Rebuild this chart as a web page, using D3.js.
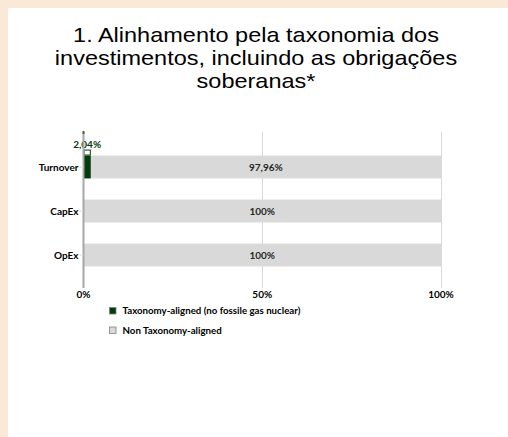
<!DOCTYPE html>
<html><head><meta charset="utf-8">
<script src="https://cdn.jsdelivr.net/npm/d3@7"></script>
<style>
html,body{margin:0;padding:0;background:#fbe9d7;}
svg{display:block;}
</style></head>
<body>
<script>
const categories = ["Turnover", "CapEx", "OpEx"];
const aligned = [2.04, 0, 0];
const nonAligned = [97.96, 100, 100];
const alignedLabels = ["2,04%", "", ""];
const nonAlignedLabels = ["97,96%", "100%", "100%"];
const tickValues = [0, 50, 100];
const tickLabels = ["0%", "50%", "100%"];
const seriesNames = ["Taxonomy-aligned (no fossile gas nuclear)", "Non Taxonomy-aligned"];
const seriesColors = ["#033b0c", "#d9d9d9"];
const titleLines = ["1. Alinhamento pela taxonomia dos", "investimentos, incluindo as obrigações", "soberanas*"];

const W = 508, H = 437;
const svg = d3.select("body").append("svg").attr("width", W).attr("height", H);
svg.append("rect").attr("width", W).attr("height", H).attr("fill", "#fbe9d7");
svg.append("rect").attr("x", 8).attr("y", 8).attr("width", W - 8).attr("height", H - 8).attr("fill", "#ffffff");

const sx = 1.13, cx = 256;
const title = svg.append("text").attr("text-anchor", "middle")
  .attr("transform", `translate(${cx},0) scale(${sx},1)`)
  .attr("font-family", "'Liberation Sans', Arial, sans-serif").attr("font-size", 20.8).attr("fill", "#000");
titleLines.forEach((l, i) => title.append("tspan").attr("x", 0).attr("y", 41.7 + i * 23.3).text(l));

const x = d3.scaleLinear().domain([0, 100]).range([83.5, 441]);
const y = d3.scaleBand().domain(categories).range([134, 288]).paddingInner(0.48).paddingOuter(0.49);

const font = "Lato, 'Open Sans', sans-serif";
const fs = 10;

// gridlines
svg.append("g").selectAll("line").data(tickValues.slice(1)).join("line")
  .attr("x1", d => Math.round(x(d)) + 0.5).attr("x2", d => Math.round(x(d)) + 0.5)
  .attr("y1", 132).attr("y2", 288).attr("stroke", "#d9d9d9").attr("stroke-width", 1);

// bars
const rows = categories.map((c, i) => ({c, a: aligned[i], n: nonAligned[i], al: alignedLabels[i], nl: nonAlignedLabels[i]}));
const g = svg.append("g");
g.selectAll("rect.n").data(rows).join("rect").attr("class", "n")
  .attr("x", d => x(d.a)).attr("width", d => x(d.a + d.n) - x(d.a))
  .attr("y", d => y(d.c)).attr("height", y.bandwidth()).attr("fill", seriesColors[1]);
g.selectAll("rect.a").data(rows.filter(d => d.a > 0)).join("rect").attr("class", "a")
  .attr("x", x(0)).attr("width", d => x(d.a) - x(0))
  .attr("y", d => y(d.c)).attr("height", y.bandwidth()).attr("fill", seriesColors[0]);

// axis line
svg.append("line").attr("x1", x(0)).attr("x2", x(0)).attr("y1", 132).attr("y2", 288)
  .attr("stroke", "#a6a6a6").attr("stroke-width", 2);
svg.append("line").attr("x1", x(0)).attr("x2", x(0)).attr("y1", 131).attr("y2", 134)
  .attr("stroke", "#595959").attr("stroke-width", 2);
// small category ticks
svg.append("g").selectAll("line").data(categories).join("line")
  .attr("x1", x(0) - 4).attr("x2", x(0)).attr("y1", d => y(d) + y.bandwidth() / 2).attr("y2", d => y(d) + y.bandwidth() / 2)
  .attr("stroke", "#d9d9d9");

// labels
g.selectAll("text.n").data(rows).join("text").attr("class", "n")
  .attr("x", d => x(d.a + d.n / 2)).attr("y", d => y(d.c) + y.bandwidth() / 2 + 3.5)
  .attr("text-anchor", "middle").attr("font-family", font).attr("font-weight", "bold").attr("font-size", fs)
  .attr("fill", "#262626").text(d => d.nl);
const al = rows.filter(d => d.a > 0);
g.selectAll("rect.box").data(al).join("rect").attr("class", "box")
  .attr("x", x(0) + 0.5).attr("width", d => x(d.a) - x(0) - 1)
  .attr("y", d => y(d.c) - 5.5).attr("height", 5).attr("fill", "#fff").attr("stroke", seriesColors[0]).attr("stroke-width", 1);
g.selectAll("text.a").data(al).join("text").attr("class", "a")
  .attr("x", d => x(d.a / 2)).attr("y", d => y(d.c) - 7.5)
  .attr("text-anchor", "middle").attr("font-family", font).attr("font-weight", "bold").attr("font-size", fs)
  .attr("fill", seriesColors[0]).text(d => d.al);

// category labels
svg.append("g").selectAll("text").data(categories).join("text")
  .attr("x", 78.5).attr("y", d => y(d) + y.bandwidth() / 2 + 3.5).attr("text-anchor", "end")
  .attr("font-family", font).attr("font-weight", "bold").attr("font-size", fs).attr("fill", "#000").text(d => d);

// x tick labels
svg.append("g").selectAll("text").data(tickValues).join("text")
  .attr("x", d => x(d)).attr("y", 297.5).attr("text-anchor", "middle")
  .attr("font-family", font).attr("font-weight", "bold").attr("font-size", fs).attr("fill", "#000")
  .text((d, i) => tickLabels[i]);

// legend
const lg = svg.append("g").selectAll("g").data(seriesNames).join("g")
  .attr("transform", (d, i) => `translate(109.5,${307.5 + i * 19.5})`);
lg.append("rect").attr("width", 6.5).attr("height", 6.5).attr("fill", (d, i) => seriesColors[i]).attr("stroke", "#808080").attr("stroke-width", 0.8);
lg.append("text").attr("x", 13).attr("y", 6.8).attr("font-family", font).attr("font-weight", "bold").attr("font-size", 9.7).attr("fill", "#000").text(d => d);
</script>
</body></html>
